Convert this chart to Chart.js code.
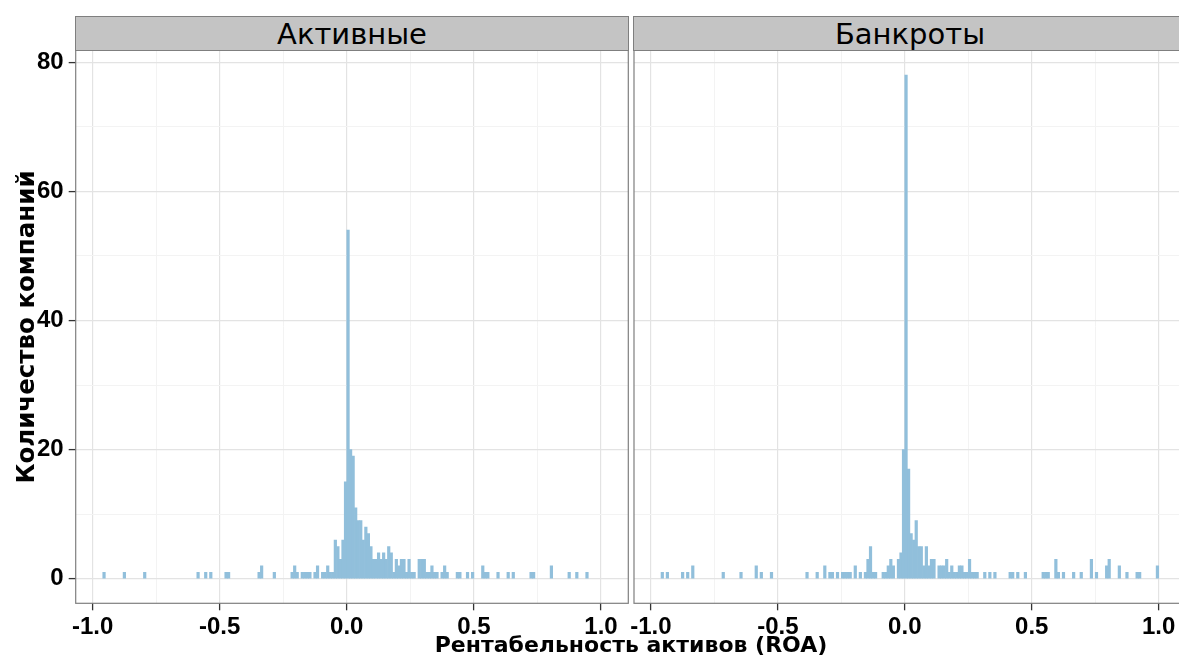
<!DOCTYPE html>
<html lang="ru">
<head>
<meta charset="utf-8">
<title>ROA: активные и банкроты</title>
<script src="https://cdn.jsdelivr.net/npm/chart.js@4.4.1/dist/chart.umd.min.js"></script>
<style>
  html, body { margin: 0; padding: 0; background: #ffffff; }
  body {
    width: 1179px; height: 660px; overflow: hidden; position: relative;
    font-family: "Liberation Sans", Arial, Helvetica, sans-serif; color: #000;
  }
  .facet { position: absolute; top: 0; }
  .strip {
    position: absolute; top: 16px; height: 35px; box-sizing: border-box;
    background: #c4c4c4; border: 1px solid #7f7f7f;
    text-align: center; font-family: "DejaVu Sans", sans-serif;
    font-size: 29px; line-height: 34px; color: #000;
  }
  .xtitle {
    position: absolute; left: 0; width: 1262px; top: 633px;
    text-align: center; font-family: "DejaVu Sans", sans-serif;
    font-weight: bold; font-size: 22px; line-height: 24px;
  }
  .ytitle {
    position: absolute; left: -174px; top: 314px; width: 400px; height: 26px;
    text-align: center; font-family: "DejaVu Sans", sans-serif;
    font-weight: bold; font-size: 24.5px; line-height: 26px;
    transform: rotate(-90deg); transform-origin: 50% 50%;
  }
</style>
</head>
<body>
<div class="facet" style="left:0;"><canvas id="activeChart" width="650" height="660"></canvas></div>
<div class="facet" style="left:614px;"><canvas id="bankruptChart" width="600" height="660"></canvas></div>
<div class="strip" style="left:75px; width:554px;">Активные</div>
<div class="strip" style="left:633px; width:554px;">Банкроты</div>
<div class="xtitle">Рентабельность активов (ROA)</div>
<div class="ytitle">Количество компаний</div>

<script>
// Histogram bins are 0.01 wide; a bin index k covers [k*0.01, (k+1)*0.01).
const BIN = 0.01;

// Operating companies: bin indices and company counts
const activeBins = [
  -96, -88, -80, -59, -56, -54, -48, -47, -35, -34, -29,
  -22, -21, -20, -18, -17, -16, -15, -13, -12,
  -10, -9, -8, -7, -6, -5, -4, -3, -2, -1,
  0, 1, 2, 3, 4, 5, 6, 7, 8, 9, 10, 11, 12, 13, 14, 15, 16, 17, 18, 19, 20,
  21, 22, 23, 24, 25, 26, 28, 29, 30, 31, 32, 33, 34, 35, 37, 38, 39,
  43, 44, 47, 49, 53, 54, 55, 59, 63, 65, 72, 73, 80, 87, 90, 94
];
const activeCounts = [
  1, 1, 1, 1, 1, 1, 1, 1, 1, 2, 1,
  1, 2, 1, 1, 1, 1, 1, 1, 2,
  1, 1, 2, 1, 1, 6, 5, 3, 6, 15,
  54, 20, 19, 11, 9, 9, 6, 8, 7, 5, 3, 3, 4, 3, 4, 3, 5, 4, 1, 3, 2,
  3, 3, 1, 3, 1, 1, 3, 3, 3, 1, 1, 2, 1, 1, 1, 2, 1,
  1, 1, 1, 1, 2, 1, 1, 1, 1, 1, 1, 1, 2, 1, 1, 1
];

// Bankrupt companies: bin indices and company counts
const bankruptBins = [
  -96, -94, -88, -86, -84, -72, -65, -59, -57, -53,
  -39, -35, -32, -30, -29, -27, -25, -24, -23, -22,
  -20, -18, -16, -15, -14, -13, -12, -9, -8, -7, -6, -5, -3, -2, -1,
  0, 1, 2, 3, 4, 5, 6, 7, 8, 9, 10, 11,
  13, 14, 15, 16, 17, 18, 19, 20, 21, 22, 23, 24, 25, 26, 27, 28,
  31, 33, 35, 41, 42, 44, 47, 54, 55, 56, 59, 60, 62, 66, 69,
  73, 75, 79, 80, 84, 87, 91, 92, 99
];
const bankruptCounts = [
  1, 1, 1, 1, 2, 1, 1, 2, 1, 1,
  1, 1, 2, 1, 1, 1, 1, 1, 1, 1,
  2, 1, 1, 3, 5, 1, 1, 1, 1, 2, 3, 2, 3, 4, 20,
  78, 17, 7, 6, 9, 5, 5, 2, 5, 2, 3, 3,
  2, 2, 2, 3, 1, 2, 1, 1, 2, 2, 1, 1, 3, 1, 1, 1,
  1, 1, 1, 1, 1, 1, 1, 1, 1, 1, 3, 1, 1, 1, 1,
  3, 1, 2, 3, 2, 1, 1, 1, 2
];

// Axis breaks: labelled major breaks plus unlabelled minor grid breaks
const xBreaks = [-1, -0.75, -0.5, -0.25, 0, 0.25, 0.5, 0.75, 1];
const yBreaks = [0, 10, 20, 30, 40, 50, 60, 70, 80];
const xLimits = [-1.0665, 1.1075];
const yLimits = [-3.8, 81.9];

const BAR_FILL = 'rgb(145, 191, 219)';
const MAJOR_GRID = '#e3e3e3';
const MINOR_GRID = '#f3f3f3';
const TICK_COLOR = '#333333';

const isMajorX = v => Math.abs(v * 2 - Math.round(v * 2)) < 1e-9;
const isMajorY = v => Math.abs(v / 20 - Math.round(v / 20)) < 1e-9;

Chart.defaults.font.family = '"Liberation Sans", Arial, Helvetica, sans-serif';
Chart.defaults.color = '#000';

function toPoints(bins, counts) {
  return bins.map((k, i) => ({ x: (k + 0.5) * BIN, y: counts[i] }));
}

const panelBorder = {
  id: 'panelBorder',
  afterDraw(chart) {
    const { ctx, chartArea: a } = chart;
    ctx.save();
    ctx.strokeStyle = '#7f7f7f';
    ctx.lineWidth = 1.2;
    ctx.strokeRect(a.left, a.top, a.right - a.left, a.bottom - a.top);
    ctx.restore();
  }
};

function gridFor(isMajor) {
  return {
    offset: false,
    color: c => (c.tick && isMajor(c.tick.value)) ? MAJOR_GRID : MINOR_GRID,
    lineWidth: c => (c.tick && isMajor(c.tick.value)) ? 1.2 : 1,
    tickColor: c => (c.tick && isMajor(c.tick.value)) ? TICK_COLOR : 'rgba(0,0,0,0)',
    tickLength: 7,
    tickWidth: 1.3,
    drawTicks: true
  };
}

function makeFacet(canvasId, bins, counts, showY, padding) {
  return new Chart(document.getElementById(canvasId), {
    type: 'bar',
    data: {
      datasets: [{
        data: toPoints(bins, counts),
        backgroundColor: BAR_FILL,
        borderWidth: 0,
        barPercentage: 1,
        categoryPercentage: 1
      }]
    },
    options: {
      responsive: false,
      animation: false,
      devicePixelRatio: 1,
      layout: { padding },
      plugins: { legend: { display: false }, tooltip: { enabled: false } },
      scales: {
        x: {
          type: 'linear',
          offset: false,
          min: xLimits[0],
          max: xLimits[1],
          afterBuildTicks: s => { s.ticks = xBreaks.map(v => ({ value: v })); },
          afterFit: s => { s.height = 40; },
          grid: gridFor(isMajorX),
          border: { display: false },
          ticks: {
            autoSkip: false,
            maxRotation: 0,
            padding: 3,
            font: { size: 24, weight: 'bold' },
            color: '#000',
            callback: v => isMajorX(v) ? v.toFixed(1) : ''
          }
        },
        y: {
          type: 'linear',
          min: yLimits[0],
          max: yLimits[1],
          afterBuildTicks: s => { s.ticks = yBreaks.map(v => ({ value: v })); },
          afterFit: s => { s.width = showY ? 75.7 : 0; },
          grid: showY ? gridFor(isMajorY) : Object.assign(gridFor(isMajorY), { drawTicks: false }),
          border: { display: false },
          ticks: {
            display: showY,
            autoSkip: false,
            padding: 5,
            font: { size: 24, weight: 'bold' },
            color: '#000',
            callback: v => isMajorY(v) ? String(v) : ''
          }
        }
      }
    },
    plugins: [panelBorder]
  });
}

makeFacet('activeChart', activeBins, activeCounts, true,
  { left: 0, right: 21.7, top: 50, bottom: 16.7 });
makeFacet('bankruptChart', bankruptBins, bankruptCounts, false,
  { left: 20, right: 28, top: 50, bottom: 16.7 });
</script>
</body>
</html>
